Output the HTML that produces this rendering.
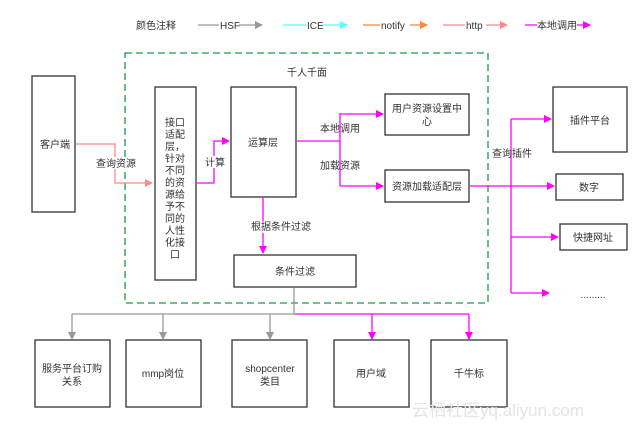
<!DOCTYPE html>
<html><head><meta charset="utf-8"><style>
html,body{margin:0;padding:0;background:#fff;width:638px;height:429px;overflow:hidden}
svg text{font-family:"Liberation Sans","Noto Sans CJK SC",sans-serif;font-size:10px;fill:#333}
</style></head><body>
<svg width="638" height="429" viewBox="0 0 638 429" xmlns="http://www.w3.org/2000/svg">
<defs>
<marker id="g" markerWidth="8" markerHeight="8" refX="7" refY="4" orient="auto" markerUnits="userSpaceOnUse"><path d="M0,0L8,4L0,8z" fill="#999"/></marker>
<marker id="m" markerWidth="8" markerHeight="8" refX="7" refY="4" orient="auto" markerUnits="userSpaceOnUse"><path d="M0,0L8,4L0,8z" fill="#f0f"/></marker>
<marker id="p" markerWidth="8" markerHeight="8" refX="7" refY="4" orient="auto" markerUnits="userSpaceOnUse"><path d="M0,0L8,4L0,8z" fill="#f88"/></marker>
<marker id="c" markerWidth="8" markerHeight="8" refX="7" refY="4" orient="auto" markerUnits="userSpaceOnUse"><path d="M0,0L8,4L0,8z" fill="#5ff"/></marker>
<marker id="o" markerWidth="8" markerHeight="8" refX="7" refY="4" orient="auto" markerUnits="userSpaceOnUse"><path d="M0,0L8,4L0,8z" fill="#f83"/></marker>
</defs>
<!-- legend -->
<text x="136" y="29">颜色注释</text>
<line x1="198" y1="25" x2="262" y2="25" stroke="#999" stroke-width="1.2" marker-end="url(#g)"/>
<rect x="219" y="19" width="20" height="12" fill="#fff"/><text x="220" y="29">HSF</text>
<line x1="283" y1="25" x2="347" y2="25" stroke="#5ff" stroke-width="1.2" marker-end="url(#c)"/>
<rect x="306" y="19" width="16" height="12" fill="#fff"/><text x="307" y="29">ICE</text>
<line x1="363" y1="25" x2="427" y2="25" stroke="#f83" stroke-width="1.2" marker-end="url(#o)"/>
<rect x="380" y="19" width="30" height="12" fill="#fff"/><text x="381" y="29">notify</text>
<line x1="443" y1="25" x2="507" y2="25" stroke="#f88" stroke-width="1.2" marker-end="url(#p)"/>
<rect x="465" y="19" width="21" height="12" fill="#fff"/><text x="466" y="29">http</text>
<line x1="525" y1="25" x2="590" y2="25" stroke="#f0f" stroke-width="1.2" marker-end="url(#m)"/>
<rect x="537" y="19" width="40" height="12" fill="#fff"/><text x="537" y="29">本地调用</text>
<!-- dashed -->
<rect x="125" y="53" width="363" height="250" fill="none" stroke="#1a9a4a" stroke-width="1.3" stroke-dasharray="7,4"/>
<text x="287" y="76">千人千面</text>
<g fill="none" stroke="#333" stroke-width="1.3">
<rect x="32" y="76" width="43" height="136"/>
<rect x="155" y="87" width="41" height="193"/>
<rect x="231" y="87" width="65" height="110"/>
<rect x="234" y="255" width="122" height="32"/>
<rect x="385" y="94" width="84" height="41"/>
<rect x="385" y="170" width="84" height="32"/>
<rect x="553" y="87" width="74" height="65"/>
<rect x="556" y="174" width="67" height="26"/>
<rect x="560" y="224" width="67" height="26"/>
<rect x="35" y="340" width="75" height="67"/>
<rect x="126" y="340" width="75" height="67"/>
<rect x="232" y="340" width="75" height="67"/>
<rect x="334" y="340" width="75" height="67"/>
<rect x="431" y="340" width="76" height="67"/>
</g>
<text x="40" y="148">客户端</text>
<g text-anchor="middle">
<text x="175" y="126">接口</text><text x="175" y="138">适配</text><text x="175" y="150">层，</text><text x="175" y="162">针对</text><text x="175" y="174">不同</text><text x="175" y="186">的资</text><text x="175" y="198">源给</text><text x="175" y="210">予不</text><text x="175" y="222">同的</text><text x="175" y="234">人性</text><text x="175" y="246">化接</text><text x="175" y="258">口</text>
<text x="263" y="146">运算层</text>
<text x="295" y="275">条件过滤</text>
<text x="427" y="112">用户资源设置中</text><text x="427" y="125">心</text>
<text x="427" y="190">资源加载适配层</text>
<text x="590" y="124">插件平台</text>
<text x="589" y="191">数字</text>
<text x="593" y="241">快捷网址</text>
<text x="593" y="298" font-size="8">.........</text>
<text x="72" y="372">服务平台订购</text><text x="72" y="385">关系</text>
<text x="163" y="377">mmp岗位</text>
<text x="270" y="372">shopcenter</text><text x="270" y="385">类目</text>
<text x="371" y="377">用户域</text>
<text x="469" y="377">千牛标</text>
</g>
<!-- connectors -->
<polyline points="76,144 115,144 115,183 152,183" fill="none" stroke="#f88" stroke-width="1.3" marker-end="url(#p)"/>
<rect x="95" y="157" width="40" height="12" fill="#fff"/><text x="96" y="167">查询资源</text>
<g fill="none" stroke="#f0f" stroke-width="1.3">
<polyline points="197,183 214,183 214,141 229,141" marker-end="url(#m)"/>
<line x1="263" y1="197" x2="263" y2="253" marker-end="url(#m)"/>
<polyline points="297,141 340,141"/>
<polyline points="340,113 340,186"/>
<line x1="340" y1="114" x2="383" y2="114" marker-end="url(#m)"/>
<line x1="340" y1="186" x2="383" y2="186" marker-end="url(#m)"/>
<line x1="470" y1="186" x2="554" y2="186" marker-end="url(#m)"/>
<polyline points="511,119 511,293"/>
<line x1="511" y1="119" x2="551" y2="119" marker-end="url(#m)"/>
<line x1="511" y1="237" x2="558" y2="237" marker-end="url(#m)"/>
<line x1="511" y1="293" x2="549" y2="293" marker-end="url(#m)"/>
<polyline points="294,314 469,314"/>
<line x1="372" y1="314" x2="372" y2="339" marker-end="url(#m)"/>
<line x1="469" y1="314" x2="469" y2="339" marker-end="url(#m)"/>
</g>
<rect x="205" y="156" width="20" height="12" fill="#fff"/><text x="205" y="166">计算</text>
<rect x="250" y="221" width="60" height="12" fill="#fff"/><text x="251" y="230">根据条件过滤</text>
<text x="320" y="132">本地调用</text>
<text x="320" y="169">加载资源</text>
<text x="492" y="157">查询插件</text>
<g fill="none" stroke="#999" stroke-width="1.3">
<polyline points="294,288 294,314 72,314"/>
<line x1="72" y1="314" x2="72" y2="339" marker-end="url(#g)"/>
<line x1="163" y1="314" x2="163" y2="339" marker-end="url(#g)"/>
<line x1="270" y1="314" x2="270" y2="339" marker-end="url(#g)"/>
</g>
<text x="412" y="416" style="font-size:17px;fill:#e4e4e4">云栖社区yq.aliyun.com</text>
</svg>
</body></html>
